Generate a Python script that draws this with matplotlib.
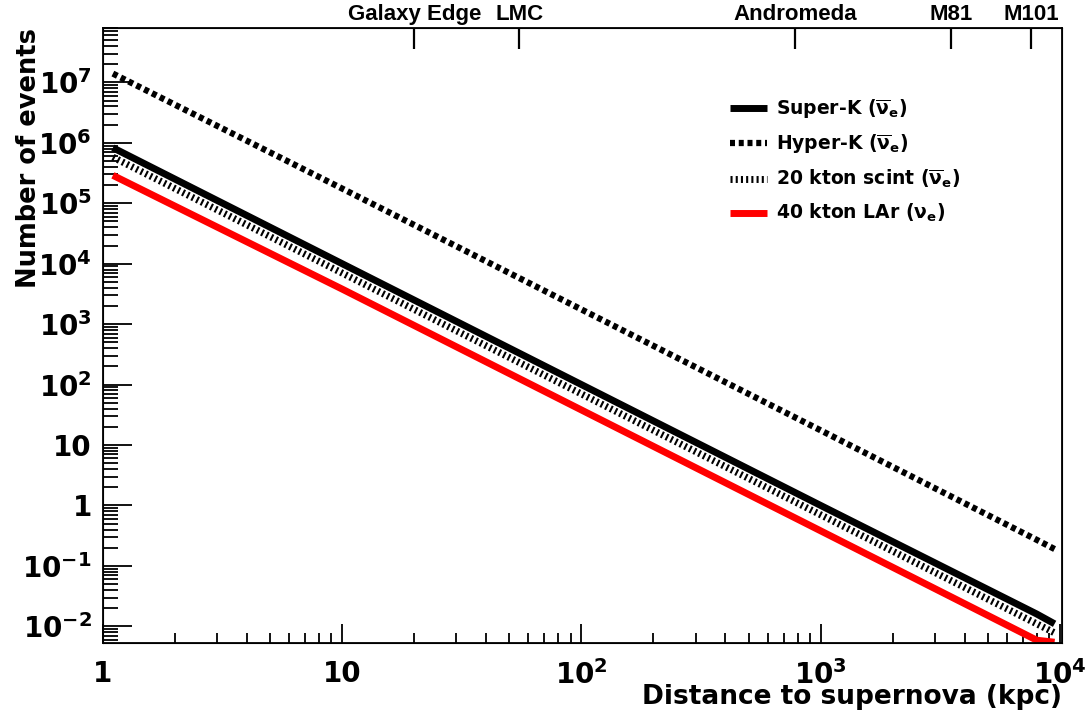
import matplotlib

matplotlib.use("Agg")

import matplotlib.pyplot as plt
import numpy as np
from matplotlib.ticker import FixedLocator, LogLocator, NullFormatter, NullLocator, FuncFormatter

plt.rcParams["font.family"] = ["DejaVu Sans"]
plt.rcParams["font.weight"] = "bold"
plt.rcParams["mathtext.fontset"] = "dejavusans"

distance = [1.1, 10, 100, 1000, 8000, 9500]
super_k = [8.3e5, 1.0e4, 1.0e2, 1.0, 1.6e-2, 1.1e-2]
hyper_k = [1.4e7, 1.75e5, 1.75e3, 17.5, 0.27, 0.19]
scint_20kt = [5.8e5, 7.0e3, 70, 0.7, 1.1e-2, 7.8e-3]
lar_40kt = [2.9e5, 3.8e3, 38, 0.38, 5.9e-3, 4.2e-3]

landmark_names = ["Galaxy Edge", "LMC", "Andromeda", "M81", "M101"]
landmark_kpc = [20, 55, 780, 3500, 7600]

y_min, y_max = 5.3e-3, 8e7
x_min, x_max = 1, 1.02e4

fig = plt.figure(figsize=(10.91, 7.12), dpi=100)
ax = fig.add_axes([0.0944, 0.0969, 0.879, 0.864])

ax.plot(distance, super_k, color="black", lw=5, solid_capstyle="butt",
        label=r"Super-K ($\overline{\mathbf{\nu}}_\mathbf{e}$)")
ax.plot(distance, hyper_k, color="black", lw=4.5, linestyle=(0, (0.8, 0.6)),
        dash_capstyle="butt", label=r"Hyper-K ($\overline{\mathbf{\nu}}_\mathbf{e}$)")
ax.plot(distance, scint_20kt, color="black", lw=5, linestyle=(0, (0.3, 0.45)),
        dash_capstyle="butt", label=r"20 kton scint ($\overline{\mathbf{\nu}}_\mathbf{e}$)")
ax.plot(distance, np.clip(lar_40kt, y_min * 1.03, None), color="red", lw=5,
        solid_capstyle="butt", label=r"40 kton LAr ($\mathbf{\nu}_\mathbf{e}$)")

ax.set_xscale("log")
ax.set_yscale("log")
ax.set_xlim(x_min, x_max)
ax.set_ylim(y_min, y_max)


def decade_label(v, pos):
    e = int(round(np.log10(v)))
    if e == 0:
        return "1"
    if e == 1:
        return "10"
    return r"$\mathbf{10^{%d}}$" % e


ax.xaxis.set_major_locator(LogLocator(base=10, numticks=10))
ax.xaxis.set_minor_locator(LogLocator(base=10, subs=np.arange(2, 10), numticks=20))
ax.yaxis.set_major_locator(LogLocator(base=10, numticks=20))
ax.yaxis.set_minor_locator(LogLocator(base=10, subs=np.arange(2, 10), numticks=40))
ax.xaxis.set_major_formatter(FuncFormatter(decade_label))
ax.yaxis.set_major_formatter(FuncFormatter(decade_label))
ax.xaxis.set_minor_formatter(NullFormatter())
ax.yaxis.set_minor_formatter(NullFormatter())

ax.tick_params(axis="both", which="both", direction="in", top=False, right=False,
               labelsize=20, width=1.3, color="black")
ax.tick_params(axis="x", which="major", length=14, pad=12)
ax.tick_params(axis="x", which="minor", length=7)
ax.tick_params(axis="y", which="major", length=21, pad=8)
ax.tick_params(axis="y", which="minor", length=11)
for s in ax.spines.values():
    s.set_linewidth(1.3)

top = ax.twiny()
top.set_xscale("log")
top.set_xlim(x_min, x_max)
top.xaxis.set_major_locator(FixedLocator(landmark_kpc))
top.xaxis.set_minor_locator(NullLocator())
top.set_xticklabels(landmark_names, family="Liberation Sans", fontweight="bold")
top.tick_params(axis="x", direction="in", length=15, width=1.6, labelsize=16, pad=2)

ax.set_ylabel("Number of events", fontsize=18.5, fontweight="bold", loc="top")
ax.yaxis.set_label_coords(-0.064, 1.0)
ax.set_xlabel("Distance to supernova (kpc)", fontsize=19, fontweight="bold", loc="right")
ax.xaxis.set_label_coords(1.0, -0.066)

leg = ax.legend(loc="upper left", bbox_to_anchor=(0.636, 0.915), frameon=False,
                fontsize=13.5, handlelength=2.0, handletextpad=0.45, labelspacing=0.62)
for t in leg.get_texts():
    t.set_fontweight("bold")

fig.savefig("out.png", dpi=100)
plt.close(fig)
